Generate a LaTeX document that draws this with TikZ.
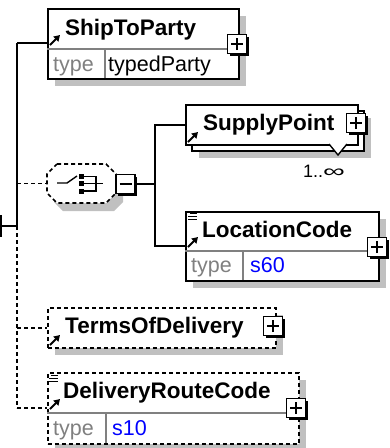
\documentclass[tikz,border=0pt]{standalone}
\usepackage{fontspec}
\usepackage{graphicx}
\setmainfont{Liberation Sans}
\usetikzlibrary{shadows,arrows.meta}
\definecolor{shadowgray}{HTML}{C0C0C0}
\definecolor{sepgray}{HTML}{808080}
\definecolor{typegray}{HTML}{808080}
\definecolor{typeblue}{HTML}{0000FF}
\tikzset{
  elbox/.style={draw, fill=white, line width=1.5pt, rectangle, inner sep=0pt, anchor=north west},
  shadowed/.style={drop shadow={shadow xshift=7pt, shadow yshift=-7pt, fill=shadowgray, opacity=1}},
  optional/.style={dash pattern=on 4pt off 3pt},
  dsh/.style={line width=1.6pt, dash pattern=on 4pt off 3pt},
  conn/.style={line width=1.6pt},
  sepline/.style={draw=sepgray, line width=1.1pt},
  elname/.style={anchor=base west, inner sep=0pt, font=\fontsize{22.5}{26}\selectfont\bfseries},
  typelbl/.style={anchor=base west, inner sep=0pt, text=typegray, font=\fontsize{21.5}{24}\selectfont},
  typeval/.style={anchor=base west, inner sep=0pt, font=\fontsize{21.5}{24}\selectfont},
  refarrow/.style={line width=2.1pt, -{Triangle[length=6pt,width=7pt]}},
  simplemark/.style={line width=1.2pt},
  expbase/.style={rectangle, draw, fill=white, line width=1.5pt, minimum size=19pt, inner sep=0pt,
    drop shadow={shadow xshift=2pt, shadow yshift=-2pt, fill=black, opacity=1}},
  plusbox/.style={expbase, path picture={
    \draw[line width=1.5pt] ([xshift=-6pt]path picture bounding box.center) -- ([xshift=6pt]path picture bounding box.center);
    \draw[line width=1.5pt] ([yshift=-6pt]path picture bounding box.center) -- ([yshift=6pt]path picture bounding box.center);}},
  minusbox/.style={expbase, path picture={
    \draw[line width=1.5pt] ([xshift=-6pt]path picture bounding box.center) -- ([xshift=6pt]path picture bounding box.center);}},
}
\begin{document}
\begin{tikzpicture}[x=1pt,y=-1pt]
\useasboundingbox (0,0) rectangle (390,448);

% ---- trunk coordinates
\coordinate (trunk) at (17,43);
\coordinate (stub) at (17,226);
\coordinate (stubL) at (1,226);
\coordinate (stubT) at (1,215);
\coordinate (stubB) at (1,237);
\coordinate (trunkend) at (17,408);
\coordinate (br) at (155,184);

% ---- ShipToParty
\node[elbox, shadowed, minimum width=191pt, minimum height=70pt] (ship) at (47,8) {};
\draw[sepline] (47,49) -- (238,49);
\draw[sepline] (105,49) -- (105,78);
\node[elname] (shipT) at (65,35) {ShipToParty};
\node[typelbl] (shipTy) at (53,71) {type};
\node[typeval] (shipTv) at (108,71) {typedParty};
\draw[refarrow] (50,45) -- (60,35);
\node[plusbox] (shipP) at (237,44) {};

% ---- choice compositor
\fill[shadowgray] (63,172) -- (114,172) -- (123,181) -- (123,202) -- (114,211) -- (63,211) -- (54,202) -- (54,181) -- cycle;
\draw[dsh, fill=white] (57,164) -- (106,164) -- (116,174) -- (116,193) -- (106,203) -- (57,203) -- (47,193) -- (47,174) -- cycle;
\node[minimum width=69pt, minimum height=39pt, inner sep=0pt] (choice) at (81.5,183.5) {};
\draw[line width=1.4pt] (57,183) -- (67,183) -- (77,176);
\fill (79,173.5) rectangle (84,178.5);
\fill (79,181) rectangle (84,186);
\fill (79,188.5) rectangle (84,193.5);
\draw[line width=1.4pt] (84,176.5) -- (96,176.5) -- (96,191) -- (84,191);
\draw[line width=1.4pt] (84,183.5) -- (103,183.5);
\node[minusbox] (chM) at (125.5,184) {};

% ---- SupplyPoint (repeating)
\node[elbox, shadowed, minimum width=172pt, minimum height=40pt] (supB) at (191,110) {};
\node[elbox, minimum width=172pt, minimum height=40pt] (sup) at (185,104) {};
\draw[line width=1.4pt, fill=white] (329,144) -- (338,155) -- (347,144);
\node[elname] (supT) at (203,130) {SupplyPoint};
\draw[refarrow] (188,142) -- (198,132);
\node[plusbox] (supP) at (356,123) {};
\node[anchor=center, inner sep=0pt, font=\fontsize{18}{20}\selectfont] (supOcc) at (324,171) {1..\scalebox{1.7}[1]{∞}};

% ---- LocationCode
\node[elbox, shadowed, minimum width=193pt, minimum height=69pt] (loc) at (185,211) {};
\draw[sepline] (185,251) -- (378,251);
\draw[sepline] (243,251) -- (243,280);
\draw[simplemark] (190,213.5) -- (197,213.5);
\draw[simplemark] (188,216.5) -- (197,216.5);
\draw[simplemark] (188,219.5) -- (197,219.5);
\node[elname] (locT) at (202,237) {LocationCode};
\draw[refarrow] (188,247) -- (198,237);
\node[typelbl] (locTy) at (191,272) {type};
\node[typeval, text=typeblue] (locTv) at (250,272) {s60};
\node[plusbox] (locP) at (377,247) {};

% ---- TermsOfDelivery (optional)
\node[elbox, shadowed, optional, minimum width=228pt, minimum height=40pt] (terms) at (47,307) {};
\node[elname] (termsT) at (65,333) {TermsOfDelivery};
\draw[refarrow] (50,345) -- (60,335);
\node[plusbox] (termsP) at (273,326) {};

% ---- DeliveryRouteCode (optional)
\node[elbox, shadowed, optional, minimum width=251pt, minimum height=71pt] (drc) at (47,372) {};
\draw[sepline] (47,413) -- (298,413);
\draw[sepline] (106,413) -- (106,443);
\draw[simplemark] (51,375.5) -- (58,375.5);
\draw[simplemark] (49,378.5) -- (58,378.5);
\draw[simplemark] (49,381.5) -- (58,381.5);
\node[elname] (drcT) at (63,398) {DeliveryRouteCode};
\draw[refarrow] (50,409) -- (60,399);
\node[typelbl] (drcTy) at (53,435) {type};
\node[typeval, text=typeblue] (drcTv) at (112,435) {s10};
\node[plusbox] (drcP) at (296,408) {};

% ---- connectors
\draw[conn] (trunk) -- (ship.west |- trunk);
\draw[conn] (trunk) -- (stub);
\draw[dsh] (stub) -- (trunkend);
\draw[conn] (stub) -- (stubL);
\draw[conn] (stubT) -- (stubB);
\draw[dsh] (choice.west -| trunk) -- (choice.west);
\draw[dsh] (terms.west -| trunk) -- (terms.west);
\draw[dsh] (trunkend) -- (drc.west |- trunkend);
\draw[conn] (chM.east) -- (br);
\draw[conn] (sup.west) -| (br);
\draw[conn] (br) |- ([yshift=-35pt]loc.north west);
\end{tikzpicture}
\end{document}
